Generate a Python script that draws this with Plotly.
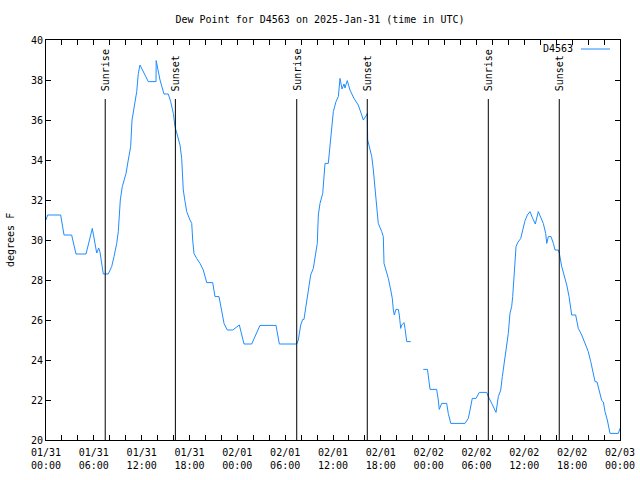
import datetime as dt
import plotly.graph_objects as go

# ---- data ----
hours = [0.0, 0.2, 1.84, 2.26, 3.22, 3.76, 5.02, 5.81, 6.36, 6.61, 6.77, 7.19, 7.81, 8.24, 8.53, 8.87,
         9.07, 9.22, 9.32, 9.57, 10.04, 10.32, 10.62, 10.79, 11.08, 11.38, 11.58, 11.79, 12.83, 13.8,
         13.82, 14.3, 14.8, 15.34, 15.64, 15.97, 16.18, 16.47, 16.81, 17.02, 17.15, 17.22, 17.44, 17.65,
         18.06, 18.28, 18.4, 18.56, 18.9, 19.32, 19.73, 20.16, 20.91, 21.2, 21.7, 22.04, 22.33, 22.74,
         23.42, 24.25, 24.46, 24.84, 25.8, 26.84, 28.85, 29.27, 31.45, 31.65, 31.95, 32.2, 32.36, 32.61,
         32.83, 33.03, 33.2, 33.53, 33.74, 34.03, 34.16, 34.37, 34.71, 35.0, 35.41, 35.62, 35.84, 36.04,
         36.38, 36.67, 36.88, 37.13, 37.38, 37.5, 37.79, 38.13, 38.63, 39.17, 39.6, 39.8, 40.14, 40.3,
         40.35, 40.55, 40.86, 41.06, 41.27, 41.39, 41.68, 42.11, 42.31, 42.4, 42.74, 42.94, 43.24, 43.44,
         43.57, 43.69, 43.9, 44.19, 44.32, 44.49, 44.62, 44.91, 45.03, 45.25, 45.75,
         46.5,
         47.33, 47.85, 48.17, 49.0, 49.21, 49.33, 49.63, 50.26, 50.46, 50.77, 52.56, 52.97, 53.19, 53.47,
         53.94, 54.35, 55.28, 55.48, 55.91, 56.45, 56.74, 57.04, 57.24, 57.45, 57.7, 57.99, 58.2, 58.41,
         58.54, 58.7, 58.83, 58.96, 59.17, 59.55, 59.8, 60.09, 60.38, 60.71, 61.05, 61.38, 61.75, 62.05,
         62.38, 62.68, 62.81, 63.01, 63.35, 63.64, 63.85, 64.26, 64.39, 64.69, 64.98, 65.32, 65.61, 65.94,
         66.44, 66.77, 67.2, 67.61, 68.02, 68.33, 68.65, 68.87, 69.12, 69.41, 69.71, 69.91, 70.12, 70.41,
         70.75, 71.79, 72.0]
dewpoint = [31.0, 31.25, 31.25, 30.25, 30.25, 29.3, 29.3, 30.58, 29.35, 29.6, 29.4, 28.3, 28.3, 28.67, 29.17, 29.83,
            30.42, 31.5, 32.0, 32.67, 33.33, 34.0, 34.67, 36.0, 36.67, 37.42, 38.33, 38.75, 37.92, 37.92,
            38.97, 38.0, 37.3, 37.3, 36.92, 36.33, 35.67, 35.17, 34.75, 34.08, 33.33, 32.5, 31.92, 31.42,
            31.0, 30.83, 30.0, 29.33, 29.08, 28.83, 28.5, 27.87, 27.87, 27.17, 27.17, 26.33, 25.83, 25.5,
            25.5, 25.75, 25.4, 24.8, 24.8, 25.73, 25.73, 24.8, 24.8, 25.0, 25.75, 26.03, 26.03, 26.67,
            27.17, 27.75, 28.25, 28.58, 29.17, 29.83, 31.25, 31.83, 32.33, 33.83, 33.83, 34.67, 35.67, 36.42,
            36.92, 37.17, 38.08, 37.55, 37.8, 37.6, 37.97, 37.5, 37.08, 36.75, 36.25, 36.0, 36.2, 36.33,
            35.0, 34.67, 34.17, 33.5, 32.67, 32.0, 30.83, 30.42, 30.17, 28.83, 28.42, 28.08, 27.5, 27.08,
            26.5, 26.25, 26.53, 26.53, 26.25, 25.58, 25.75, 25.87, 25.58, 24.92, 24.92,
            None,
            23.53, 23.53, 22.53, 22.53, 22.0, 21.53, 21.83, 21.83, 21.33, 20.83, 20.83, 21.08, 21.5, 22.08,
            22.08, 22.38, 22.38, 22.17, 21.83, 21.38, 22.17, 22.5, 23.17, 23.83, 24.5, 25.33, 26.33, 26.67,
            27.17, 28.17, 29.17, 29.67, 29.87, 30.08, 30.5, 30.97, 31.25, 31.42, 31.08, 30.8, 31.42, 31.13,
            30.83, 30.33, 29.83, 30.17, 30.17, 29.83, 29.5, 29.5, 29.33, 28.67, 28.25, 27.75, 27.17, 26.25,
            26.25, 25.58, 25.25, 24.83, 24.42, 23.92, 23.33, 22.92, 22.9, 22.42, 21.97, 21.9, 21.42, 21.0,
            20.33, 20.33, 20.58]
event_hours = [7.43, 16.23, 31.45, 40.3, 55.48, 64.38]
event_labels = ["Sunrise", "Sunset", "Sunrise", "Sunset", "Sunrise", "Sunset"]
station = "D4563"
title = "Dew Point for D4563 on 2025-Jan-31 (time in UTC)"
y_label = "degrees F"
y_ticks = list(range(20, 41, 2))

base = dt.datetime(2025, 1, 31, 0, 0)
times = [base + dt.timedelta(hours=h) for h in hours]
tick_times = [base + dt.timedelta(hours=h) for h in range(0, 73, 2)]
tick_text = [t.strftime("%m/%d<br>%H:%M") if t.hour % 6 == 0 else "" for t in tick_times]

FONT = "DejaVu Sans Mono"
BLUE = "#1e8cff"
L, R, T, B = 46, 620, 40, 440
W = R - L
H = B - T

fig = go.Figure()
fig.add_trace(go.Scatter(x=times, y=dewpoint, mode="lines", name=station,
                         line=dict(color=BLUE, width=1), connectgaps=False, showlegend=False))

for h, lab in zip(event_hours, event_labels):
    t = base + dt.timedelta(hours=h)
    fig.add_shape(type="line", x0=t, x1=t, y0=20, y1=37.05, xref="x", yref="y",
                  line=dict(color="black", width=1))
    fig.add_annotation(x=t, y=37.05, xref="x", yref="y", text=lab, showarrow=False,
                       textangle=-90, xanchor="center", yanchor="bottom", yshift=6,
                       font=dict(family=FONT, size=10, color="black"))

# key in top right
KEY_Y = 1 - (49 - T) / H
fig.add_annotation(xref="paper", yref="paper", x=(575 - L) / W, y=KEY_Y,
                   text=station, showarrow=False, xanchor="right", yanchor="middle",
                   font=dict(family=FONT, size=10, color="black"))
fig.add_shape(type="line", xref="paper", yref="paper", x0=(581 - L) / W, x1=(610 - L) / W,
              y0=KEY_Y, y1=KEY_Y, line=dict(color=BLUE, width=1))

# y axis label
fig.add_annotation(xref="paper", yref="paper", x=(10 - L) / W, y=0.5, text=y_label,
                   showarrow=False, textangle=-90, xanchor="center", yanchor="middle",
                   font=dict(family=FONT, size=10, color="black"))

fig.update_layout(
    width=640, height=480,
    margin=dict(l=L, r=640 - R, t=T, b=480 - B, autoexpand=False),
    paper_bgcolor="white", plot_bgcolor="white",
    font=dict(family=FONT, size=10, color="black"),
    title=dict(text=title, x=0.5, xanchor="center", y=1 - 19 / 480, yanchor="middle",
               font=dict(family=FONT, size=10, color="black")),
    showlegend=False,
)
fig.update_xaxes(range=[base, base + dt.timedelta(hours=72)], tickmode="array",
                 tickvals=tick_times, ticktext=tick_text, ticks="inside", ticklen=5,
                 tickcolor="black", showline=True, linecolor="black", linewidth=1,
                 mirror="ticks", showgrid=False, zeroline=False, automargin=False,
                 ticklabelstandoff=3,
                 tickfont=dict(family=FONT, size=10, color="black"))
fig.update_yaxes(range=[20, 40], tickmode="array", tickvals=y_ticks,
                 ticktext=[str(v) for v in y_ticks], ticks="inside", ticklen=5,
                 tickcolor="black", showline=True, linecolor="black", linewidth=1,
                 mirror="ticks", showgrid=False, zeroline=False, automargin=False,
                 tickfont=dict(family=FONT, size=10, color="black"))

fig.write_html("out.html", config={"displayModeBar": False},
               post_script="document.body.style.margin='0';document.body.style.overflow='hidden';")
